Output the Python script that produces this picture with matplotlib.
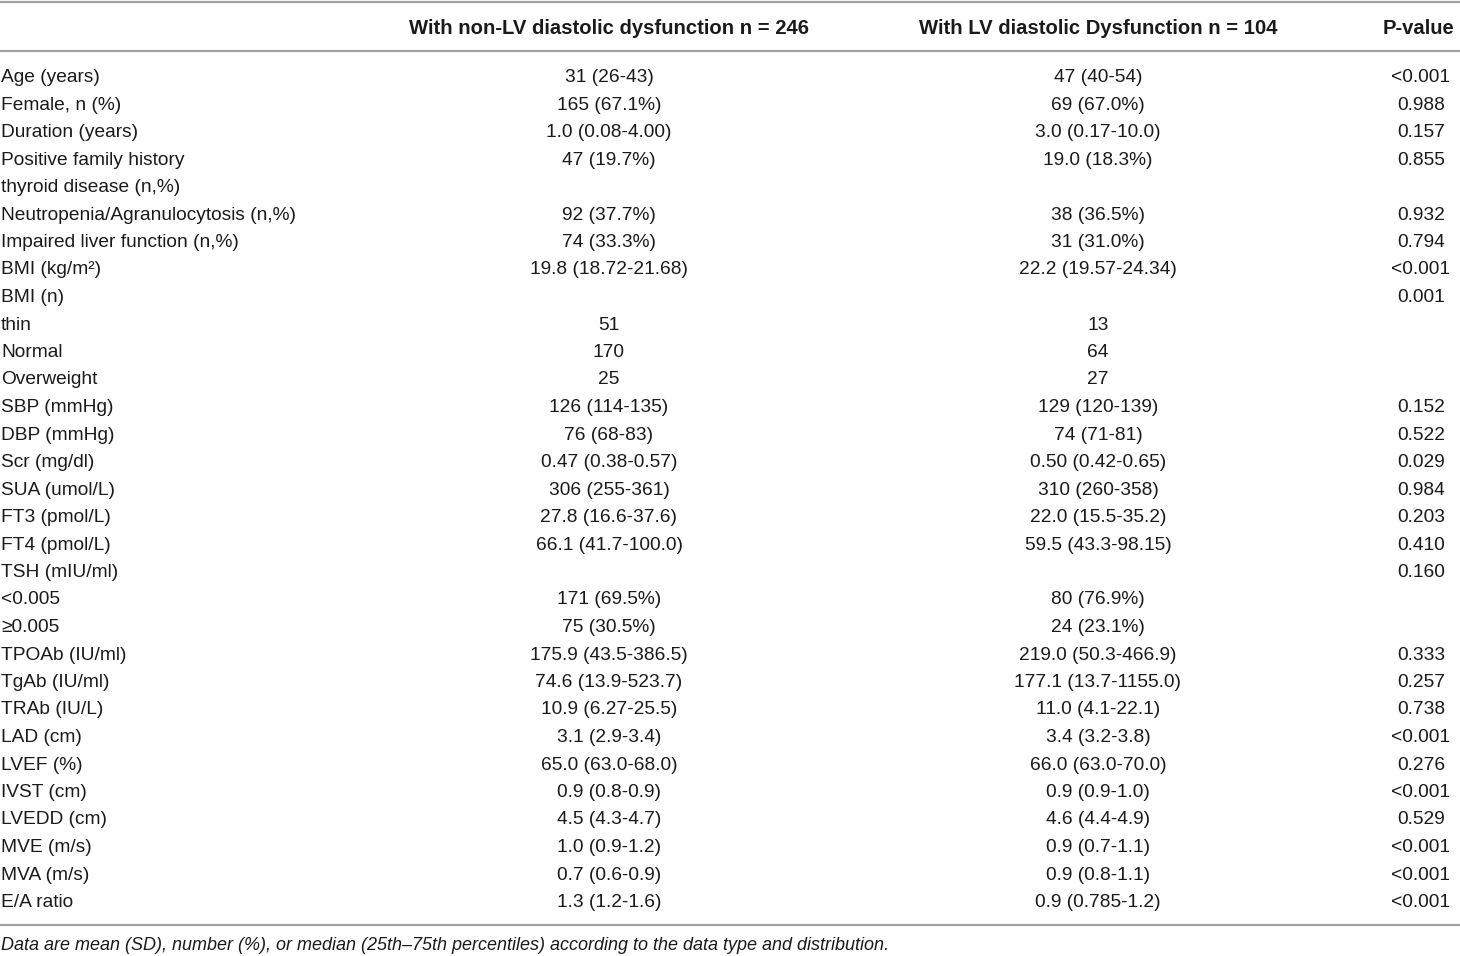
import matplotlib
matplotlib.use("Agg")
import matplotlib.pyplot as plt

# ---- table content ----
header = ["", "With non-LV diastolic dysfunction n = 246",
          "With LV diastolic Dysfunction n = 104", "P-value"]

row_labels = [
    "Age (years)", "Female, n (%)", "Duration (years)", "Positive family history",
    "thyroid disease (n,%)", "Neutropenia/Agranulocytosis (n,%)",
    "Impaired liver function (n,%)", "BMI (kg/m\u00b2)", "BMI (n)", "thin", "Normal",
    "Overweight", "SBP (mmHg)", "DBP (mmHg)", "Scr (mg/dl)", "SUA (umol/L)",
    "FT3 (pmol/L)", "FT4 (pmol/L)", "TSH (mIU/ml)", "<0.005", "\u22650.005",
    "TPOAb (IU/ml)", "TgAb (IU/ml)", "TRAb (IU/L)", "LAD (cm)", "LVEF (%)",
    "IVST (cm)", "LVEDD (cm)", "MVE (m/s)", "MVA (m/s)", "E/A ratio",
]

non_lv = [
    "31 (26-43)", "165 (67.1%)", "1.0 (0.08-4.00)", "47 (19.7%)", "",
    "92 (37.7%)", "74 (33.3%)", "19.8 (18.72-21.68)", "", "51", "170", "25",
    "126 (114-135)", "76 (68-83)", "0.47 (0.38-0.57)", "306 (255-361)",
    "27.8 (16.6-37.6)", "66.1 (41.7-100.0)", "", "171 (69.5%)", "75 (30.5%)",
    "175.9 (43.5-386.5)", "74.6 (13.9-523.7)", "10.9 (6.27-25.5)",
    "3.1 (2.9-3.4)", "65.0 (63.0-68.0)", "0.9 (0.8-0.9)", "4.5 (4.3-4.7)",
    "1.0 (0.9-1.2)", "0.7 (0.6-0.9)", "1.3 (1.2-1.6)",
]

lv = [
    "47 (40-54)", "69 (67.0%)", "3.0 (0.17-10.0)", "19.0 (18.3%)", "",
    "38 (36.5%)", "31 (31.0%)", "22.2 (19.57-24.34)", "", "13", "64", "27",
    "129 (120-139)", "74 (71-81)", "0.50 (0.42-0.65)", "310 (260-358)",
    "22.0 (15.5-35.2)", "59.5 (43.3-98.15)", "", "80 (76.9%)", "24 (23.1%)",
    "219.0 (50.3-466.9)", "177.1 (13.7-1155.0)", "11.0 (4.1-22.1)",
    "3.4 (3.2-3.8)", "66.0 (63.0-70.0)", "0.9 (0.9-1.0)", "4.6 (4.4-4.9)",
    "0.9 (0.7-1.1)", "0.9 (0.8-1.1)", "0.9 (0.785-1.2)",
]

p_values = [
    "<0.001", "0.988", "0.157", "0.855", "", "0.932", "0.794", "<0.001",
    "0.001", "", "", "", "0.152", "0.522", "0.029", "0.984", "0.203", "0.410",
    "0.160", "", "", "0.333", "0.257", "0.738", "<0.001", "0.276", "<0.001",
    "0.529", "<0.001", "<0.001", "<0.001",
]

footnote = ("Data are mean (SD), number (%), or median (25th\u201375th percentiles) "
            "according to the data type and distribution.")

# ---- drawing ----
plt.rcParams['font.family'] = ['Liberation Sans', 'DejaVu Sans']

W, H = 1460, 956
fig = plt.figure(figsize=(W / 100, H / 100), dpi=100)
ax = fig.add_axes([0, 0, 1, 1])
ax.set_xlim(0, W)
ax.set_ylim(H, 0)
ax.axis("off")

fs = 13.8
txt_color = "#1a1a1a"
line_color = "#a0a0a0"

col_x = [1, 609, 1098, 1421]

# horizontal rules
for y in (1.5, 51, 925):
    ax.plot([0, W], [y, y], color=line_color, lw=1.6, solid_capstyle="butt")

# header
header_y = 28
for i, h in enumerate(header[1:], start=1):
    xx = col_x[i] if i < 3 else 1419
    ax.text(xx, header_y, h, ha="center", va="center",
            fontsize=14.6, fontweight="bold", color=txt_color)

# body
y0, dy = 77.5, 27.5
for r in range(len(row_labels)):
    y = y0 + r * dy
    ax.text(col_x[0], y, row_labels[r], ha="left", va="center",
            fontsize=fs, color=txt_color)
    ax.text(col_x[1], y, non_lv[r], ha="center", va="center",
            fontsize=fs, color=txt_color)
    ax.text(col_x[2], y, lv[r], ha="center", va="center",
            fontsize=fs, color=txt_color)
    ax.text(col_x[3], y, p_values[r], ha="center", va="center",
            fontsize=fs, color=txt_color)

ax.text(1, 946, footnote, ha="left", va="center", fontsize=12.95,
        style="italic", color=txt_color)

fig.savefig("out.png", dpi=100)
